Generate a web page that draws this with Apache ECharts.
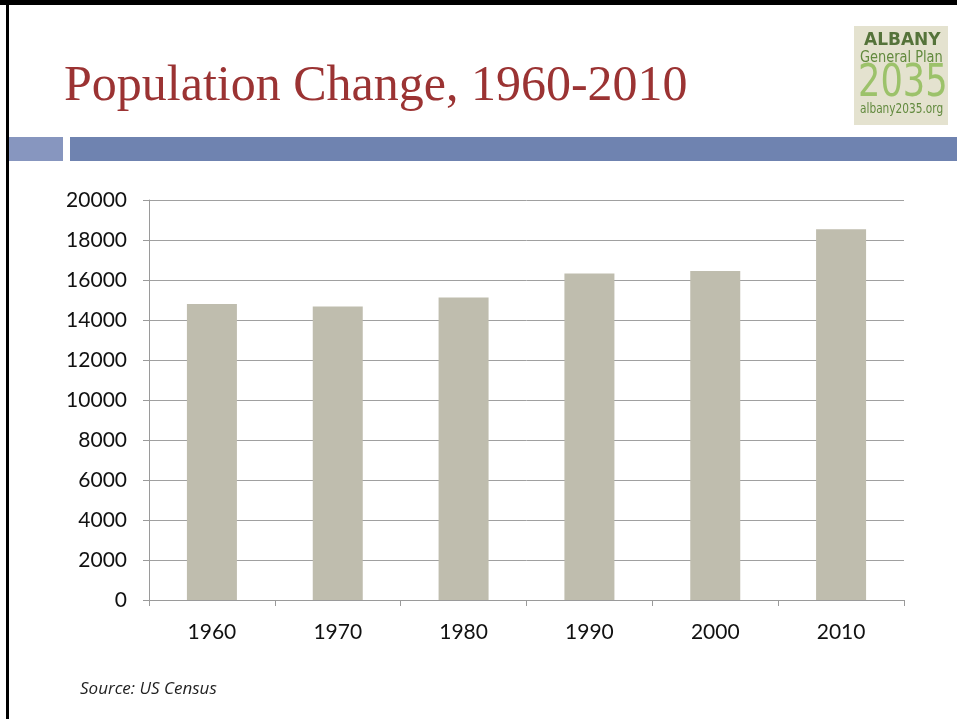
<!DOCTYPE html>
<html>
<head>
<meta charset="utf-8">
<script src="https://cdn.jsdelivr.net/npm/echarts@6/dist/echarts.min.js"></script>
<style>
html,body{margin:0;padding:0;background:#fff;}
#c{width:957px;height:719px;}
</style>
</head>
<body>
<div id="c"></div>
<script>
var titleText = 'Population Change, 1960-2010';
var sourceText = 'Source: US Census';
var years = ['1960', '1970', '1980', '1990', '2000', '2010'];
var population = [14804, 14674, 15130, 16327, 16444, 18539];
var yMin = 0, yMax = 20000, yStep = 2000;

var chart = echarts.init(document.getElementById('c'), null, {renderer: 'canvas'});
var labelFont = 'Lato';
chart.setOption({
  animation: false,
  backgroundColor: '#ffffff',
  grid: {left: 149, right: 53, top: 200, bottom: 119, containLabel: false},
  xAxis: {
    type: 'category',
    data: years,
    axisLine: {show: true, lineStyle: {color: '#9a9a9a', width: 1}},
    axisTick: {show: true, length: 6, lineStyle: {color: '#9a9a9a'}},
    axisLabel: {color: '#111', fontFamily: labelFont, fontSize: 21, margin: 22}
  },
  yAxis: {
    type: 'value',
    min: yMin, max: yMax, interval: yStep,
    axisLine: {show: true, lineStyle: {color: '#9a9a9a', width: 1}},
    axisTick: {show: true, length: 6, lineStyle: {color: '#9a9a9a'}},
    axisLabel: {color: '#111', fontFamily: labelFont, fontSize: 21, margin: 22,
      formatter: function (v) { return String(v); }},
    splitLine: {show: true, lineStyle: {color: '#a0a0a0', width: 1}}
  },
  series: [{
    type: 'bar',
    data: population,
    barWidth: 50,
    itemStyle: {color: '#bfbdae'}
  }],
  graphic: [
    {type: 'rect', shape: {x: 0, y: 0, width: 957, height: 5}, style: {fill: '#000'}},
    {type: 'rect', shape: {x: 6, y: 0, width: 3, height: 719}, style: {fill: '#000'}},
    {type: 'rect', shape: {x: 9, y: 137, width: 54, height: 24}, style: {fill: '#8796bf'}},
    {type: 'rect', shape: {x: 70, y: 137, width: 887, height: 24}, style: {fill: '#6f83b0'}},
    {type: 'text', x: 64, y: 62, style: {text: titleText, fill: '#9b3333', font: '50px "Liberation Serif"'}},
    {type: 'rect', shape: {x: 854, y: 26, width: 94, height: 99}, style: {fill: '#e4e2cf'}},
    {type: 'text', x: 864, y: 31, scaleX: 1.05, style: {text: 'ALBANY', fill: '#55733a', font: 'bold 18px "DejaVu Sans Condensed"'}},
    {type: 'text', x: 860, y: 50, scaleX: 0.9, style: {text: 'General Plan', fill: '#628a3e', font: '16px "DejaVu Sans Condensed"'}},
    {type: 'text', x: 858, y: 63, scaleX: 0.89, style: {text: '2035', fill: '#9cc26a', font: '44px "DejaVu Sans Condensed"'}},
    {type: 'text', x: 860, y: 102, scaleX: 0.84, style: {text: 'albany2035.org', fill: '#628a3e', font: '14px "DejaVu Sans Condensed"'}},
    {type: 'text', x: 80, y: 681, style: {text: sourceText, fill: '#222', font: 'italic 17px "Open Sans"'}}
  ]
});
</script>
</body>
</html>
